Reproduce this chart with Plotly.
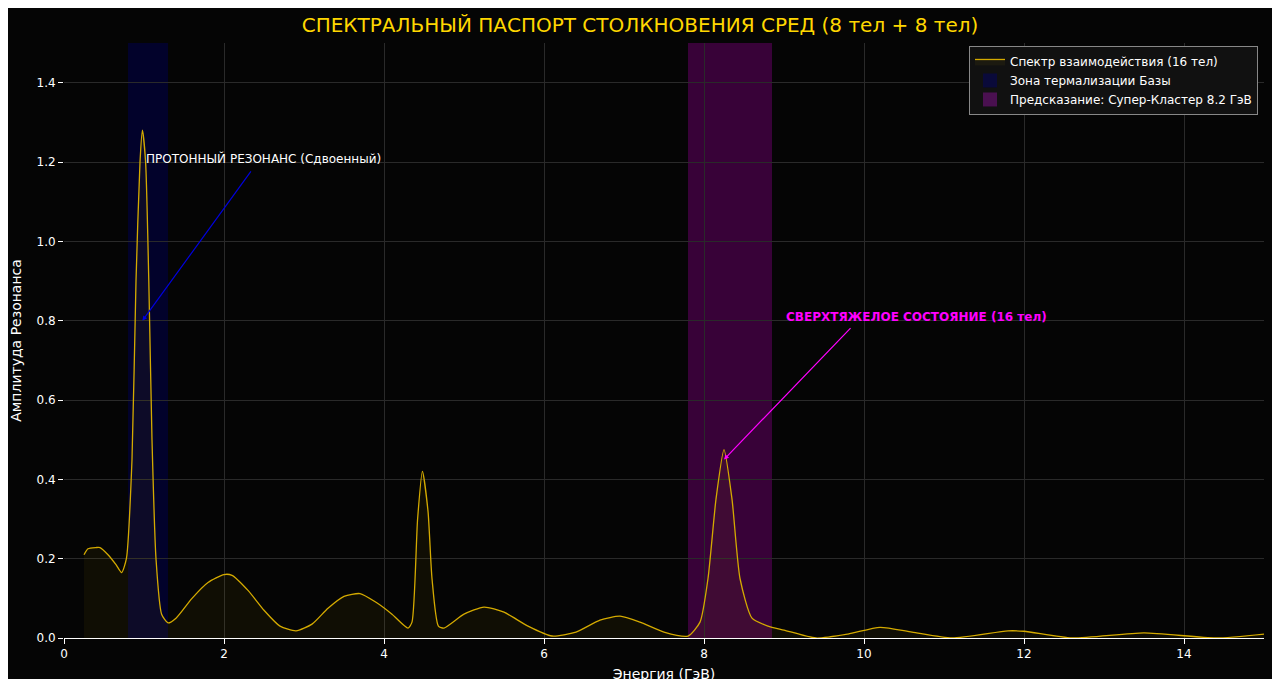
import plotly.graph_objects as go

energy = [0.25,0.3,0.4,0.45,0.55,0.65,0.72,0.78,0.85,0.9,0.95,0.98,1.02,1.06,1.1,1.15,1.22,1.3,1.4,1.6,1.8,2.0,2.1,2.3,2.5,2.7,2.9,3.1,3.3,3.5,3.7,3.9,4.1,4.3,4.35,4.42,4.48,4.55,4.6,4.68,4.75,5.0,5.25,5.5,5.8,6.1,6.4,6.7,6.95,7.2,7.5,7.8,7.95,8.05,8.15,8.25,8.35,8.45,8.6,8.8,9.0,9.4,9.8,10.2,10.6,11.1,11.8,12.0,12.6,13.5,14.4,15.0]
amplitude = [0.21,0.225,0.228,0.228,0.21,0.185,0.165,0.2,0.45,0.9,1.2,1.28,1.2,0.9,0.5,0.2,0.06,0.038,0.05,0.1,0.14,0.16,0.158,0.12,0.07,0.03,0.018,0.035,0.075,0.105,0.112,0.09,0.06,0.025,0.04,0.3,0.42,0.32,0.15,0.03,0.025,0.06,0.078,0.065,0.03,0.005,0.015,0.045,0.055,0.04,0.015,0.005,0.04,0.15,0.35,0.475,0.35,0.15,0.05,0.03,0.02,0.0,0.01,0.027,0.015,0.0,0.018,0.017,0.0,0.013,0.0,0.01]

fig = go.Figure()
fig.add_trace(go.Scatter(x=energy, y=amplitude, mode="lines", line=dict(color="#d4aa00", width=1.3, shape="spline", smoothing=0.6),
                         fill="tozeroy", fillcolor="rgba(212,170,0,0.06)", name="Спектр взаимодействия (16 тел)"))
fig.add_trace(go.Scatter(x=[None], y=[None], mode="markers", marker=dict(symbol="square", size=14, color="#0a0a3a"), name="Зона термализации Базы"))
fig.add_trace(go.Scatter(x=[None], y=[None], mode="markers", marker=dict(symbol="square", size=14, color="#4a1050"), name="Предсказание: Супер-Кластер 8.2 ГэВ"))
fig.add_vrect(x0=0.8, x1=1.3, fillcolor="rgba(0,0,90,0.45)", line_width=0, layer="below")
fig.add_vrect(x0=7.8, x1=8.85, fillcolor="rgba(120,0,120,0.45)", line_width=0, layer="below")
fig.add_annotation(x=0.98, y=0.8, ax=2.35, ay=1.18, axref="x", ayref="y", text="", showarrow=True, arrowhead=2, arrowsize=0.8, arrowcolor="#0000dd", arrowwidth=1.2)
fig.add_annotation(x=1.0, y=1.21, text="ПРОТОННЫЙ РЕЗОНАНС (Сдвоенный)", showarrow=False, xanchor="left", font=dict(color="white", size=12))
fig.add_annotation(x=8.25, y=0.45, ax=9.85, ay=0.785, axref="x", ayref="y", text="", showarrow=True, arrowhead=2, arrowsize=0.8, arrowcolor="#ff00ff", arrowwidth=1.2)
fig.add_annotation(x=9.0, y=0.81, text="<b>СВЕРХТЯЖЕЛОЕ СОСТОЯНИЕ (16 тел)</b>", showarrow=False, xanchor="left", font=dict(color="#ff00ff", size=12))
fig.update_layout(
    autosize=True, paper_bgcolor="#050505", plot_bgcolor="#050505",
    margin=dict(l=56, r=8, t=35, b=49, autoexpand=False),
    title=dict(text="СПЕКТРАЛЬНЫЙ ПАСПОРТ СТОЛКНОВЕНИЯ СРЕД (8 тел + 8 тел)", x=0.5, y=0.985, font=dict(color="#ffd700", size=20)),
    font=dict(family="DejaVu Sans", color="white", size=12),
    xaxis=dict(range=[0, 15], dtick=2, title=dict(text="Энергия (ГэВ)", standoff=8, font=dict(size=14)), gridcolor="#2a2a2a", zeroline=False, ticks="outside", tickcolor="white", showline=True, linecolor="white", automargin=False),
    yaxis=dict(range=[0, 1.5], dtick=0.2, tickformat=".1f", title=dict(text="Амплитуда Резонанса", font=dict(size=14)), gridcolor="#2a2a2a", zeroline=False, ticks="outside", tickcolor="white", showline=False, automargin=False),
    legend=dict(x=0.995, y=0.995, xanchor="right", yanchor="top", bgcolor="#111111", bordercolor="#888", borderwidth=1, font=dict(size=12)),
)
fig.write_html("out.html", config={"responsive": True}, default_height="100vh", default_width="100%")
